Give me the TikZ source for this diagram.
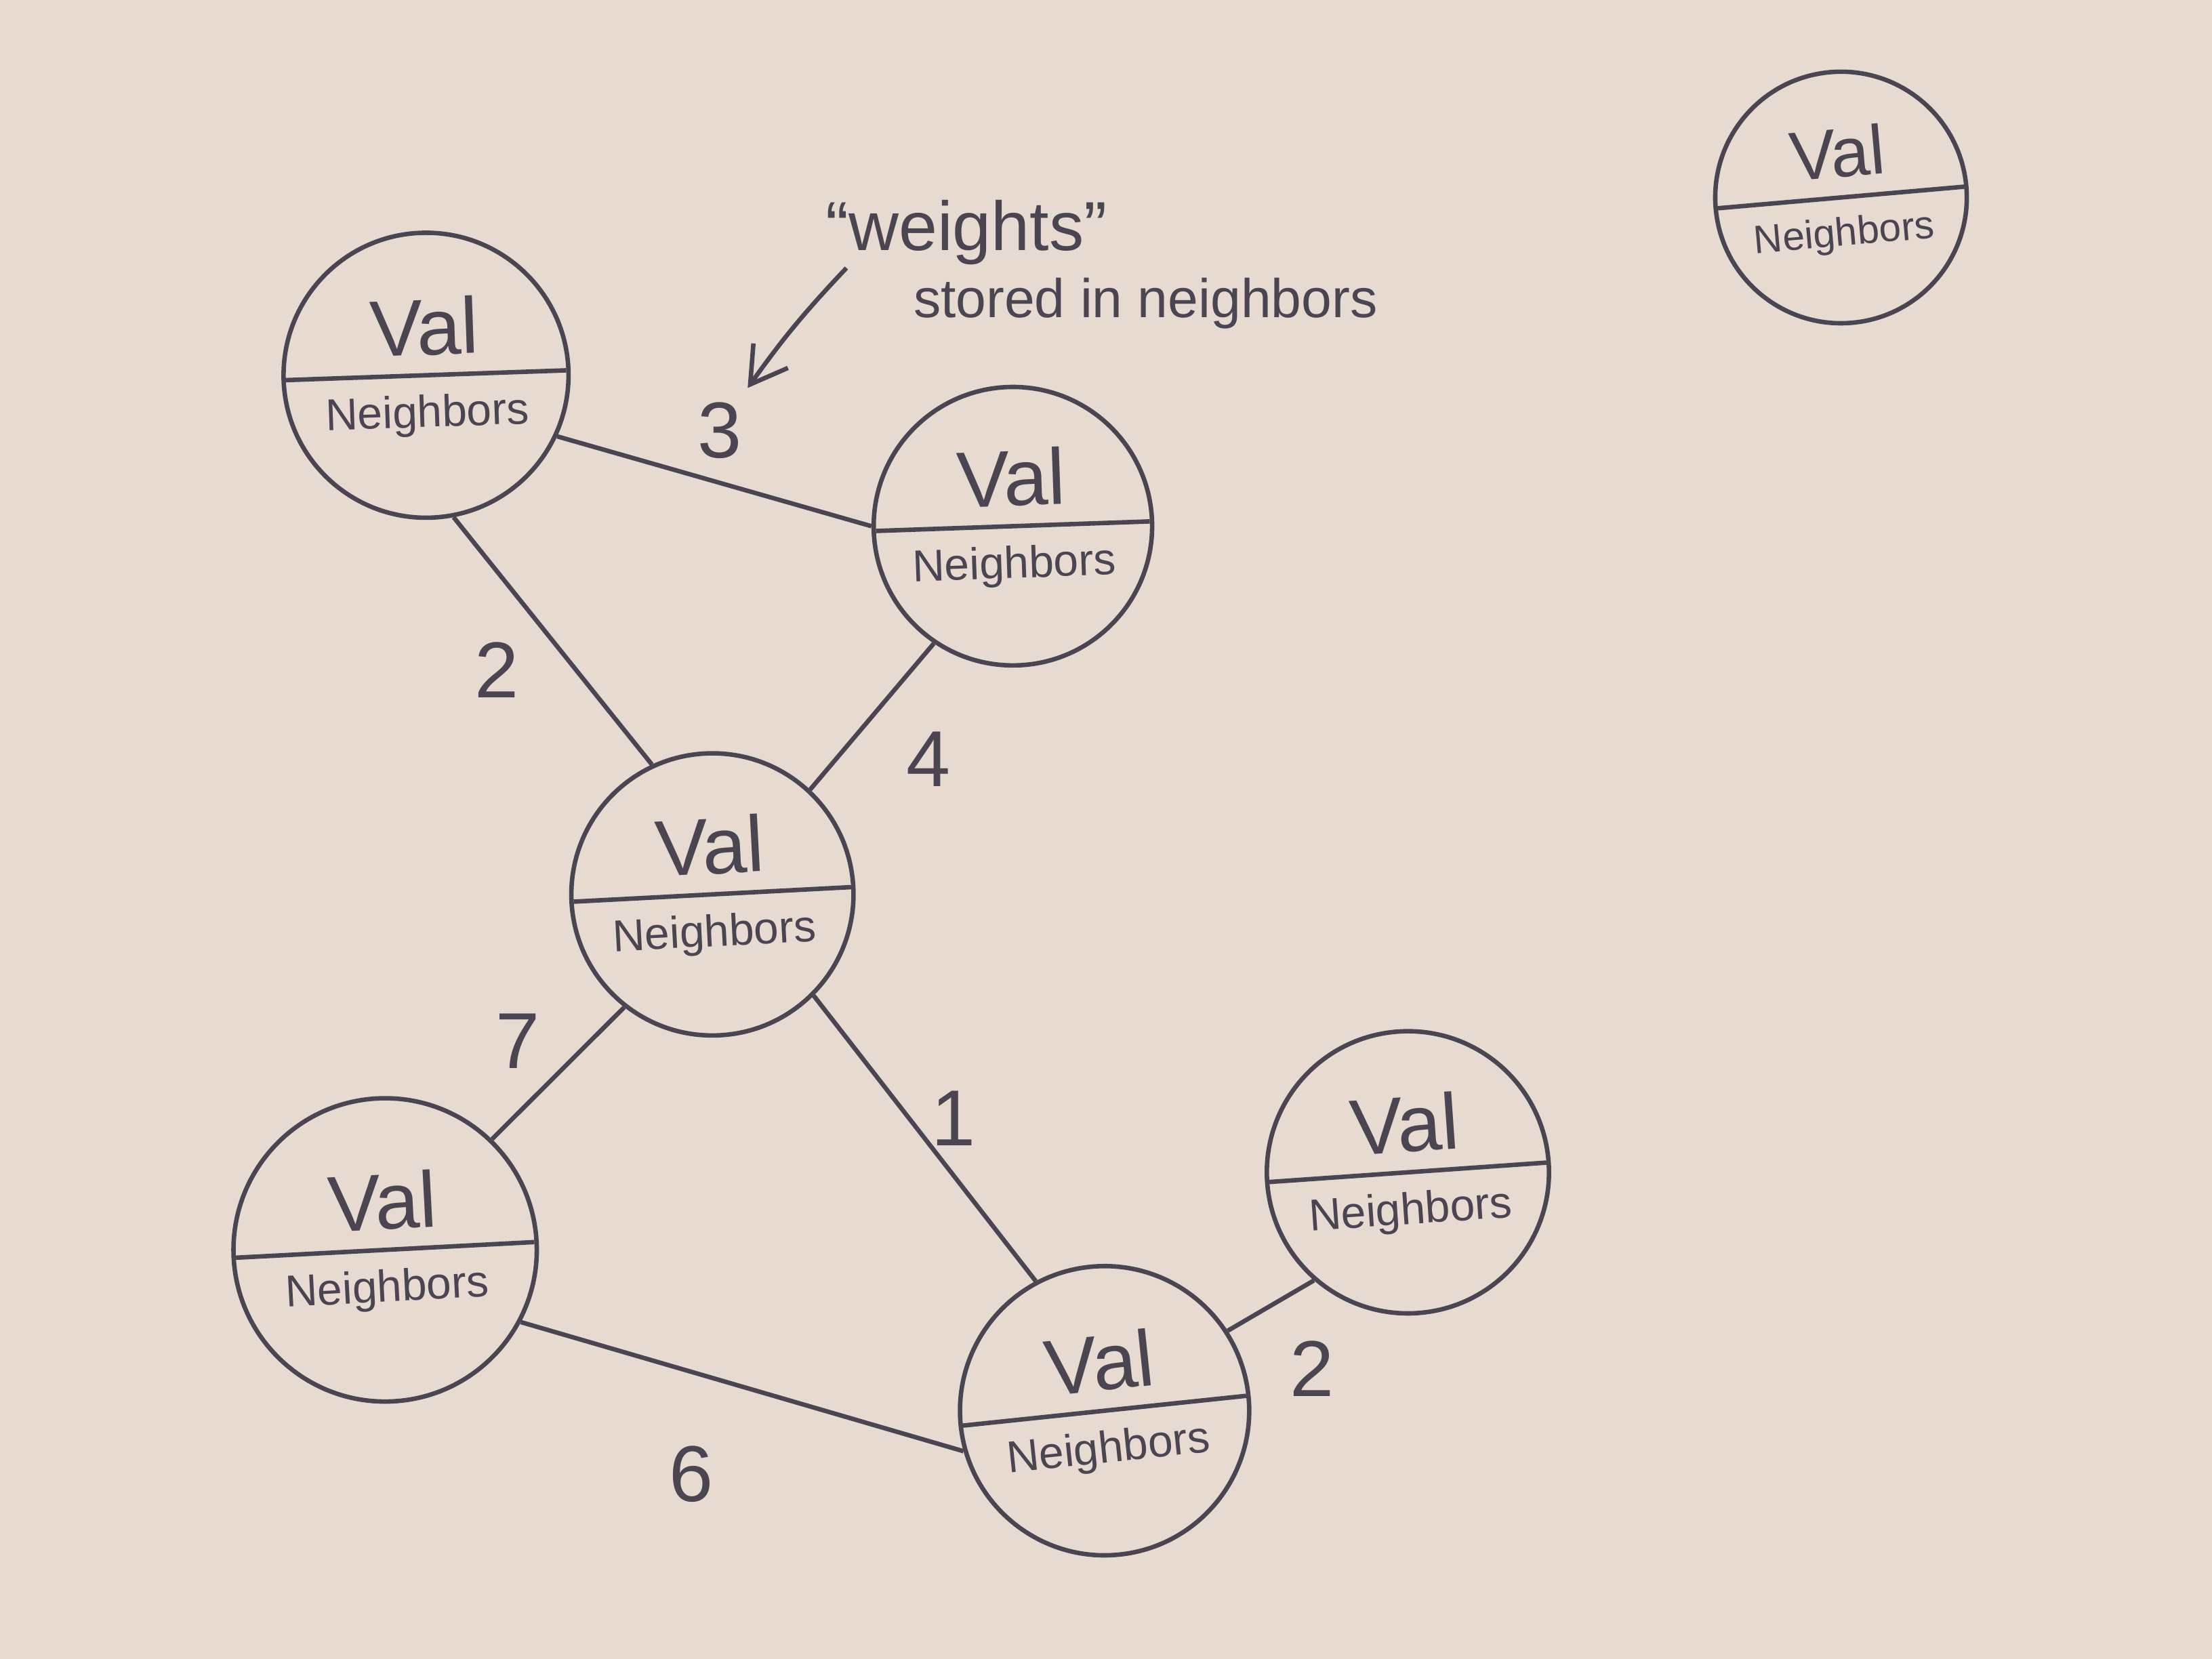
\documentclass[tikz,border=0pt]{standalone}
\usepackage{fontspec}
\setmainfont{Liberation Sans}
\usetikzlibrary{shapes.multipart, arrows.meta}

\definecolor{paper}{HTML}{E7DBD1}
\definecolor{pencil}{HTML}{4A4550}

\newcommand{\nbrfont}{\fontsize{9}{11}\selectfont}

\tikzset{
  vertex/.style={circle split, draw=pencil, line width=0.9pt, text=pencil,
    inner xsep=0pt, inner ysep=3.5pt, font=\fontsize{16}{18}\selectfont},
  link/.style={draw=pencil, line width=0.9pt},
  weight/.style={text=pencil, font=\fontsize{16}{18}\selectfont},
  note/.style={text=pencil, font=\fontsize{11}{13}\selectfont}
}

\begin{document}
\begin{tikzpicture}
      \fill[paper] (0,0) rectangle (15.68,-11.76);
      \useasboundingbox (0,0) rectangle (15.68,-11.76);

      % vertices
      \node[vertex, minimum size=2.02cm, rotate=2] (a) at (3.02,-2.66) {Val \nodepart{lower} \nbrfont Neighbors};
      \node[vertex, minimum size=1.90cm, rotate=2] (b) at (7.18,-3.73) {Val \nodepart{lower} \nbrfont Neighbors};
      \node[vertex, minimum size=2.00cm, rotate=3] (c) at (5.05,-6.34) {Val \nodepart{lower} \nbrfont Neighbors};
      \node[vertex, minimum size=2.15cm, rotate=3] (d) at (2.73,-8.86) {Val \nodepart{lower} \nbrfont Neighbors};
      \node[vertex, minimum size=2.05cm, rotate=6] (e) at (7.83,-10.00) {Val \nodepart{lower} \nbrfont Neighbors};
      \node[vertex, minimum size=2.00cm, rotate=4] (f) at (9.98,-8.31) {Val \nodepart{lower} \nbrfont Neighbors};
      \node[vertex, minimum size=1.76cm, rotate=5, font=\fontsize{14}{16}\selectfont] (g) at (13.05,-1.40) {Val \nodepart{lower} \fontsize{8}{10}\selectfont Neighbors};

      % edges
      \draw[link] (a.-27) -- (b.178);
      \draw[link] (a.-81) -- (c.112);
      \draw[link] (b.-126) -- (c.44);
      \draw[link] (c.-131) -- (d.43);
      \draw[link] (c.-48) -- (e.112);
      \draw[link] (d.-31) -- (e.190);
      \draw[link] (e.27) -- (f.225);

      % weights
      \node[weight] (wab) at (5.10,-3.05) {3};
      \node[weight] (wac) at (3.52,-4.75) {2};
      \node[weight] (wbc) at (6.58,-5.38) {4};
      \node[weight] (wcd) at (3.67,-7.38) {7};
      \node[weight] (wce) at (6.76,-7.93) {1};
      \node[weight] (wde) at (4.90,-10.45) {6};
      \node[weight] (wef) at (9.30,-9.70) {2};

      % note on the weights
      \node[note, font=\fontsize{14}{16}\selectfont] (weights) at (6.85,-1.65) {``weights''};
      \node[note] (stored) at (8.12,-2.15) {stored in neighbors};
      \coordinate (tail) at (6.00,-1.90);
      \coordinate (tip) at (5.30,-2.75);
      \draw[link, -{Straight Barb[length=2.5mm,width=3mm]}] (tail) to[bend right=4] (tip);
\end{tikzpicture}
\end{document}
